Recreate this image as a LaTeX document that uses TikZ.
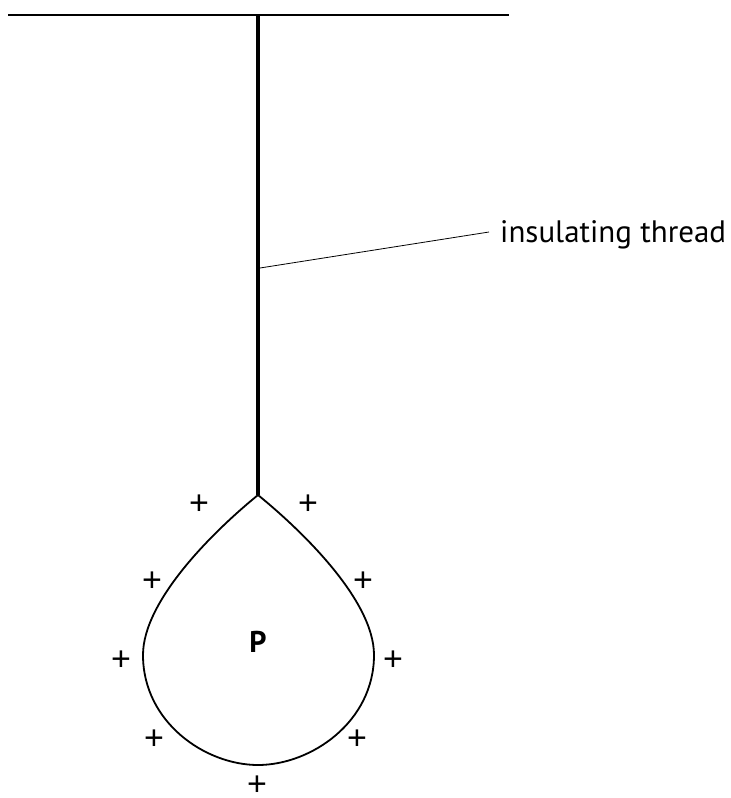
\documentclass[tikz,border=0pt]{standalone}
\usepackage{fontspec}
\setmainfont{PT Sans}
\newfontfamily\plusfont{Liberation Sans}
\usepackage{tikz}
\usetikzlibrary{positioning, calc}

\begin{document}
\begin{tikzpicture}[x=1pt, y=-1pt,
        charge/.style={inner sep=0pt, font=\plusfont\fontsize{34}{34}\selectfont},
        labeltext/.style={inner sep=0pt, font=\fontsize{31}{31}\selectfont}]
                \useasboundingbox (0,0) rectangle (731,798);
                
                % support
                \coordinate (supL) at (8,15);
                \coordinate (supR) at (509,15);
                \draw[line width=2pt] (supL) -- (supR);
                
                % thread
                \coordinate (top) at (258,15);
                \coordinate (tip) at (258,495);
                \draw[line width=3.5pt] (top) -- (tip);
                
                % drop P
                \draw[line width=1.8pt] (tip) .. controls (215,530) and (143,600) .. (143,655)
                    .. controls (143,722) and (205,765) .. (258,765)
                    .. controls (311,765) and (374,722) .. (374,655)
                    .. controls (374,600) and (301,530) .. (tip);
                \node[font=\bfseries\fontsize{30}{30}\selectfont, inner sep=0pt] (P) at (258,642) {P};
                
                % charges
                \foreach \cx/\cy [count=\i] in {199/505, 308/505, 152/582, 363/582, 121/661,
                        393/661, 154/740, 357/740, 257/786}
                    \node[charge] (c\i) at (\cx,\cy) {+};
                
                % label
                \node[labeltext, anchor=base west] (lab) at (500,242) {insulating thread};
                \coordinate (onthread) at (260,268);
                \coordinate (labend) at (489,232);
                \draw[line width=0.8pt] (onthread) -- (labend);
\end{tikzpicture}
\end{document}
